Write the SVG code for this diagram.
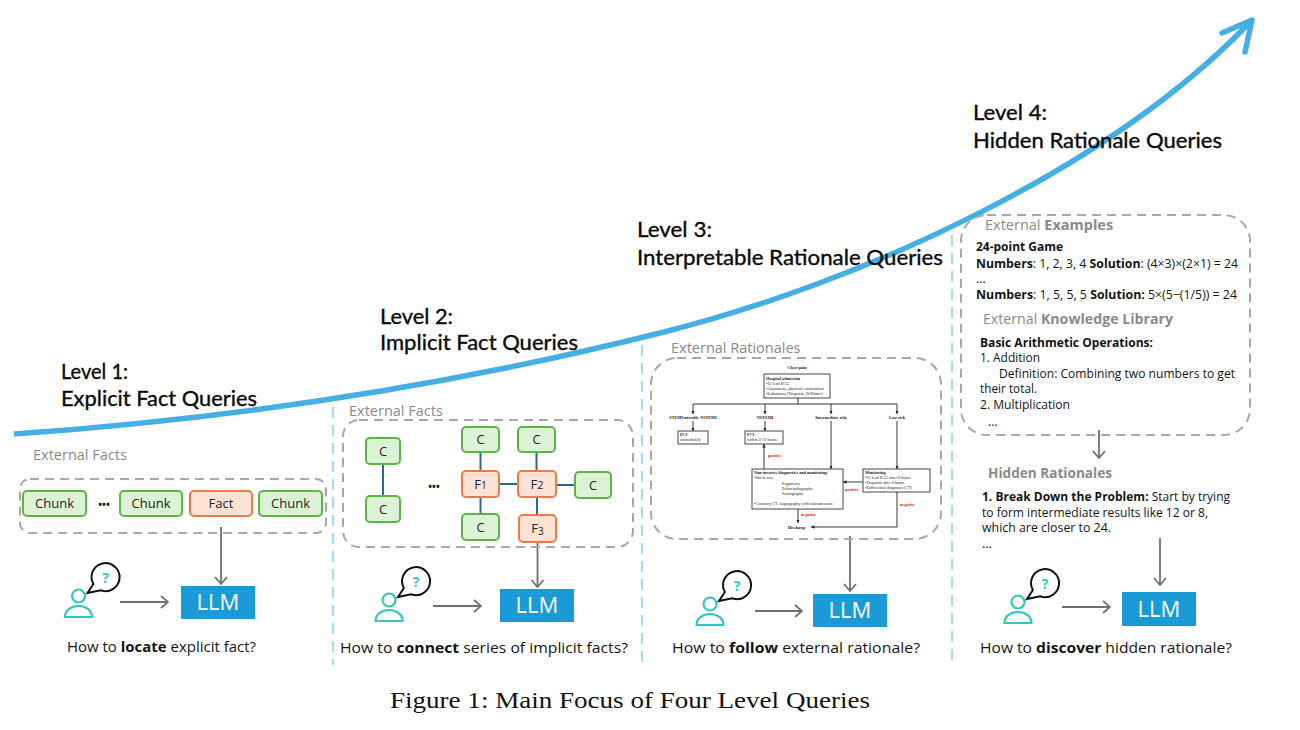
<svg xmlns="http://www.w3.org/2000/svg" width="1300" height="730" viewBox="0 0 1300 730">
<defs>
<style>
.head{font-family:Lato,"Open Sans",sans-serif;font-size:20.5px;fill:#0a0a0a;stroke:#0a0a0a;stroke-width:0.35px;}
.sec{font-family:"Open Sans","Noto Sans",sans-serif;font-size:14.5px;fill:#8a8a8a;}
.body{font-family:"Open Sans","Noto Sans",sans-serif;font-size:12.5px;fill:#141414;}
.q{font-family:"Open Sans","Noto Sans",sans-serif;font-size:15px;fill:#141414;}
.b{font-weight:bold;}
.llmbox{fill:#1a9ad6;}
.llmtxt{font-family:"Open Sans","Noto Sans",sans-serif;font-size:22px;fill:#fff;text-anchor:middle;}
.chunk{fill:#dcf2d5;stroke:#5cb646;stroke-width:2;}
.fact{fill:#fde3d5;stroke:#ee7a44;stroke-width:2;}
.lbl{font-family:"Open Sans","Noto Sans",sans-serif;font-size:13px;fill:#222;text-anchor:middle;}
.dash{fill:none;stroke:#a8a8a8;stroke-width:2;stroke-dasharray:9 6;}
.div{stroke:#a9d9f2;stroke-width:2.2;stroke-dasharray:11 7;fill:none;}
.arr{stroke:#707070;stroke-width:1.8;fill:none;marker-end:url(#ah);}
.link{stroke:#2b6a8c;stroke-width:2;}
.dots{font-family:"Open Sans",sans-serif;font-size:10px;fill:#222;text-anchor:middle;font-weight:bold;}
.fc{fill:#fff;stroke:#333;stroke-width:0.9;}
.fl{stroke:#222;stroke-width:0.9;fill:none;}
.fa{stroke:#222;stroke-width:0.9;fill:none;marker-end:url(#fm);}
.ft{font-family:"Liberation Serif",serif;font-size:4.2px;fill:#222;}
.fr{font-family:"Liberation Serif",serif;font-size:4.2px;fill:#e02020;font-weight:bold;}
.person{fill:none;stroke:#35c4c4;stroke-width:2.2;}
.bubble{fill:#fff;stroke:#111;stroke-width:2;}
.qm{font-family:"Open Sans",sans-serif;font-size:14px;font-weight:bold;fill:#35c4c4;text-anchor:middle;}
</style>
<marker id="ah" viewBox="0 0 12 14" refX="11" refY="7" markerWidth="12" markerHeight="14" markerUnits="userSpaceOnUse" orient="auto">
<path d="M4,1 L11,7 L4,13" fill="none" stroke="#707070" stroke-width="1.8"/>
</marker>
<marker id="fm" viewBox="0 0 6 6" refX="6" refY="3" markerWidth="3.5" markerHeight="3.5" markerUnits="userSpaceOnUse" orient="auto">
<path d="M0,0 L6,3 L0,6 z" fill="#222"/>
</marker>
<g id="user">
<circle class="person" cx="0" cy="0" r="6.5"/>
<path class="person" d="M-13.5,21 C-13.5,14 -7,10 0,10 C7,10 13.5,14 13.5,21 Z"/>
<path class="bubble" d="M14.9,-12 A14,14 0 1 1 22.2,-5.8 L9,-3 Z"/>
<text class="qm" x="27" y="-13.5">?</text>
</g>
</defs>
<rect width="1300" height="730" fill="#fff"/>

<!-- growth curve -->
<g id="curve">
<path d="M14,434 C229,419 445,387 660,333 C857,284 1110,170 1252,20" fill="none" stroke="#45afe3" stroke-width="5.5"/>
<path d="M1222,33 L1252,20 L1245,52" fill="none" stroke="#45afe3" stroke-width="5.5" stroke-linecap="round" stroke-linejoin="round"/>
</g>

<!-- dividers -->
<g id="dividers">
<line class="div" x1="333" y1="407" x2="333" y2="665"/>
<line class="div" x1="642" y1="345" x2="642" y2="665"/>
<line class="div" x1="952" y1="235" x2="952" y2="665"/>
</g>

<!-- headings -->
<g id="headings">
<text class="head" x="61" y="379" textLength="67" lengthAdjust="spacingAndGlyphs">Level 1:</text>
<text class="head" x="61" y="406" textLength="196" lengthAdjust="spacingAndGlyphs">Explicit Fact Queries</text>
<text class="head" x="380" y="324" textLength="73" lengthAdjust="spacingAndGlyphs">Level 2:</text>
<text class="head" x="380" y="350" textLength="198" lengthAdjust="spacingAndGlyphs">Implicit Fact Queries</text>
<text class="head" x="637" y="237" textLength="75" lengthAdjust="spacingAndGlyphs">Level 3:</text>
<text class="head" x="637" y="265" textLength="306" lengthAdjust="spacingAndGlyphs">Interpretable Rationale Queries</text>
<text class="head" x="973" y="120" textLength="74" lengthAdjust="spacingAndGlyphs">Level 4:</text>
<text class="head" x="973" y="148" textLength="249" lengthAdjust="spacingAndGlyphs">Hidden Rationale Queries</text>
</g>

<!-- connectors -->
<g id="connectors">
<line class="arr" x1="221" y1="527" x2="221" y2="584"/>
<line class="arr" x1="120" y1="602" x2="168" y2="602"/>
<line class="arr" x1="537.5" y1="542" x2="537.5" y2="587"/>
<line class="arr" x1="433" y1="606" x2="481" y2="606"/>
<line class="arr" x1="850" y1="536" x2="850" y2="591"/>
<line class="arr" x1="755" y1="611" x2="802" y2="611"/>
<line class="arr" x1="1099" y1="430" x2="1099" y2="458"/>
<line class="arr" x1="1160" y1="538" x2="1160" y2="585"/>
<line class="arr" x1="1062" y1="607" x2="1110" y2="607"/>
<line class="link" x1="383" y1="464" x2="383" y2="496"/>
<line class="link" x1="480.5" y1="452" x2="480.5" y2="471"/>
<line class="link" x1="480.5" y1="497" x2="480.5" y2="514"/>
<line class="link" x1="499" y1="484" x2="518" y2="484"/>
<line class="link" x1="536.5" y1="452" x2="536.5" y2="471"/>
<line class="link" x1="537" y1="497" x2="537" y2="515"/>
<line class="link" x1="556" y1="485" x2="575" y2="485"/>
</g>

<!-- Level 1 -->
<g id="level1">
<text class="sec" x="33" y="460">External Facts</text>
<rect class="dash" x="20" y="479" width="306" height="54" rx="10"/>
<g id="chunk1"><rect class="chunk" x="23" y="491" width="63" height="25" rx="4"/><text class="lbl" x="54.5" y="508">Chunk</text></g>
<text class="dots" x="104" y="508">•••</text>
<g id="chunk2"><rect class="chunk" x="120" y="491" width="62" height="25" rx="4"/><text class="lbl" x="151" y="508">Chunk</text></g>
<g id="fact1"><rect class="fact" x="190" y="491" width="62" height="25" rx="4"/><text class="lbl" x="221" y="508">Fact</text></g>
<g id="chunk3"><rect class="chunk" x="259" y="491" width="63" height="25" rx="4"/><text class="lbl" x="290.5" y="508">Chunk</text></g>
<g id="user1"><use href="#user" x="78.5" y="596"/></g>
<g id="llm1"><rect class="llmbox" x="181" y="586" width="74" height="33"/><text class="llmtxt" x="218" y="610">LLM</text></g>
<text class="q" x="67" y="652" textLength="189" lengthAdjust="spacingAndGlyphs">How to <tspan class="b">locate</tspan> explicit fact?</text>
</g>

<!-- Level 2 -->
<g id="level2">
<text class="sec" x="349" y="416">External Facts</text>
<rect class="dash" x="343" y="420" width="290" height="127" rx="16"/>
<g id="c1"><rect class="chunk" x="366" y="438" width="34" height="26" rx="4"/><text class="lbl" x="383" y="456">C</text></g>
<g id="c2"><rect class="chunk" x="366" y="496" width="34" height="26" rx="4"/><text class="lbl" x="383" y="514">C</text></g>
<text class="dots" x="434" y="490">•••</text>
<g id="c3"><rect class="chunk" x="462" y="427" width="37" height="25" rx="4"/><text class="lbl" x="480.5" y="444">C</text></g>
<g id="f1"><rect class="fact" x="462" y="471" width="37" height="26" rx="4"/><text class="lbl" x="480.5" y="489">F<tspan font-size="10">1</tspan></text></g>
<g id="c4"><rect class="chunk" x="462" y="514" width="37" height="26" rx="4"/><text class="lbl" x="480.5" y="532">C</text></g>
<g id="c5"><rect class="chunk" x="518" y="427" width="37" height="25" rx="4"/><text class="lbl" x="536.5" y="444">C</text></g>
<g id="f2"><rect class="fact" x="518" y="471" width="38" height="26" rx="4"/><text class="lbl" x="537" y="489">F<tspan font-size="11">2</tspan></text></g>
<g id="f3"><rect class="fact" x="519" y="515" width="37" height="27" rx="4"/><text class="lbl" x="537.5" y="533">F<tspan font-size="10" dy="2">3</tspan></text></g>
<g id="c6"><rect class="chunk" x="575" y="472" width="36" height="26" rx="4"/><text class="lbl" x="593" y="490">C</text></g>
<g id="user2"><use href="#user" x="389" y="600"/></g>
<g id="llm2"><rect class="llmbox" x="500" y="589" width="74" height="33"/><text class="llmtxt" x="537" y="613">LLM</text></g>
<text class="q" x="340" y="653" textLength="288" lengthAdjust="spacingAndGlyphs">How to <tspan class="b">connect</tspan> series of implicit facts?</text>
</g>

<!-- Level 3 -->
<g id="level3">
<text class="sec" x="671" y="353">External Rationales</text>
<rect class="dash" x="651" y="358" width="290" height="181" rx="26"/>
<g id="flowchart">
<text class="ft b" x="797" y="369" text-anchor="middle">Chest pain</text>
<rect class="fc" x="764" y="374" width="66" height="24"/>
<text class="ft b" x="766" y="379.5">Hospital admission</text>
<text class="ft" x="766" y="384.5">•12 lead ECG</text>
<text class="ft" x="766" y="389.8">•Anamnesis, physical examination</text>
<text class="ft" x="766" y="395">•Laboratory (Troponin, D-Dimer)</text>
<path class="fl" d="M798,398 V404 M693,404 H897"/>
<line class="fa" x1="693" y1="404" x2="693" y2="414"/>
<line class="fa" x1="765" y1="404" x2="765" y2="414"/>
<line class="fa" x1="831" y1="404" x2="831" y2="414"/>
<line class="fa" x1="897" y1="404" x2="897" y2="414"/>
<text class="ft b" x="693" y="419" text-anchor="middle">STEMI/unstable NSTEMI</text>
<text class="ft b" x="765" y="419" text-anchor="middle">NSTEMI</text>
<text class="ft b" x="831" y="419" text-anchor="middle">Intermediate risk</text>
<text class="ft b" x="897" y="419" text-anchor="middle">Low risk</text>
<line class="fa" x1="693" y1="421" x2="693" y2="431"/>
<line class="fa" x1="765" y1="421" x2="765" y2="431"/>
<rect class="fc" x="678" y="431" width="30" height="13"/>
<text class="ft b" x="680" y="436">PCI</text>
<text class="ft" x="680" y="441">immediately</text>
<rect class="fc" x="745" y="431" width="38" height="13"/>
<text class="ft b" x="747" y="436">PCI</text>
<text class="ft" x="747" y="441">within 2-72 hours</text>
<line class="fa" x1="831" y1="421" x2="831" y2="469"/>
<line class="fa" x1="897" y1="421" x2="897" y2="469"/>
<rect class="fc" x="752" y="469" width="91" height="40"/>
<text class="ft b" x="754" y="474">Non-invasive diagnostics and monitoring</text>
<text class="ft" x="754" y="479">•Stress test</text>
<text class="ft" x="782" y="485">Ergometry</text>
<text class="ft" x="782" y="490">Echocardiography</text>
<text class="ft" x="782" y="495">Scintigraphy</text>
<text class="ft" x="754" y="505">•Coronary CT Angiography with calcium score</text>
<rect class="fc" x="863" y="469" width="67" height="23"/>
<text class="ft b" x="865" y="474">Monitoring</text>
<text class="ft" x="865" y="479">•12 lead ECG after 6 hours</text>
<text class="ft" x="865" y="484">•Troponin after 6 hours</text>
<text class="ft" x="865" y="489">•Differential diagnosis (CT)</text>
<line class="fa" x1="764" y1="469" x2="764" y2="444"/>
<text class="fr" x="768" y="457">positive</text>
<line class="fa" x1="863" y1="482" x2="843" y2="482"/>
<text class="fr" x="845" y="491">positive</text>
<line class="fa" x1="798" y1="509" x2="798" y2="523"/>
<text class="fr" x="801" y="516">negative</text>
<text class="ft b" x="797" y="528.5" text-anchor="middle">Discharge</text>
<polyline class="fa" points="897,492 897,527 811,527"/>
<text class="fr" x="900" y="506">negative</text>
</g>
<g id="user3"><use href="#user" x="710" y="604"/></g>
<g id="llm3"><rect class="llmbox" x="813" y="594" width="74" height="33"/><text class="llmtxt" x="850" y="618">LLM</text></g>
<text class="q" x="672" y="653" textLength="248" lengthAdjust="spacingAndGlyphs">How to <tspan class="b">follow</tspan> external rationale?</text>
</g>

<!-- Level 4 -->
<g id="level4">
<rect class="dash" x="961" y="215" width="289" height="220" rx="26"/>
<text class="sec" x="985" y="230" font-size="15">External <tspan class="b">Examples</tspan></text>
<text class="body b" x="976" y="251" textLength="87" lengthAdjust="spacingAndGlyphs">24-point Game</text>
<text class="body" x="976" y="268" textLength="262" lengthAdjust="spacingAndGlyphs"><tspan class="b">Numbers</tspan>: 1, 2, 3, 4 <tspan class="b">Solution</tspan>: (4×3)×(2×1) = 24</text>
<text class="body" x="976" y="283">...</text>
<text class="body" x="976" y="299" textLength="261" lengthAdjust="spacingAndGlyphs"><tspan class="b">Numbers</tspan>: 1, 5, 5, 5  <tspan class="b">Solution:</tspan> 5×(5−(1/5)) = 24</text>
<text class="sec" x="983" y="324" font-size="15" textLength="190" lengthAdjust="spacingAndGlyphs">External <tspan class="b">Knowledge Library</tspan></text>
<text class="body b" x="980" y="347" textLength="173" lengthAdjust="spacingAndGlyphs">Basic Arithmetic Operations:</text>
<text class="body" x="980" y="362" textLength="60" lengthAdjust="spacingAndGlyphs">1. Addition</text>
<text class="body" x="999" y="378" textLength="236" lengthAdjust="spacingAndGlyphs">Definition: Combining two numbers to get</text>
<text class="body" x="980" y="393" textLength="57" lengthAdjust="spacingAndGlyphs">their total.</text>
<text class="body" x="980" y="409" textLength="90" lengthAdjust="spacingAndGlyphs">2. Multiplication</text>
<text class="body" x="988" y="426">...</text>
<text class="sec b" x="988" y="478" font-size="15" textLength="124" lengthAdjust="spacingAndGlyphs">Hidden Rationales</text>
<text class="body" x="982" y="501" textLength="248" lengthAdjust="spacingAndGlyphs"><tspan class="b">1. Break Down the Problem:</tspan> Start by trying</text>
<text class="body" x="982" y="517" textLength="226" lengthAdjust="spacingAndGlyphs">to form intermediate results like 12 or 8,</text>
<text class="body" x="982" y="532" textLength="129" lengthAdjust="spacingAndGlyphs">which are closer to 24.</text>
<text class="body" x="982" y="548">...</text>
<g id="user4"><use href="#user" x="1018" y="602"/></g>
<g id="llm4"><rect class="llmbox" x="1122" y="592" width="74" height="34"/><text class="llmtxt" x="1159" y="617">LLM</text></g>
<text class="q" x="980" y="653" textLength="252" lengthAdjust="spacingAndGlyphs">How to <tspan class="b">discover</tspan> hidden rationale?</text>
</g>

<g id="caption">
<text x="390" y="708" font-family="'Liberation Serif',serif" font-size="24" fill="#111" textLength="480" lengthAdjust="spacingAndGlyphs">Figure 1: Main Focus of Four Level Queries</text>
</g>
</svg>
